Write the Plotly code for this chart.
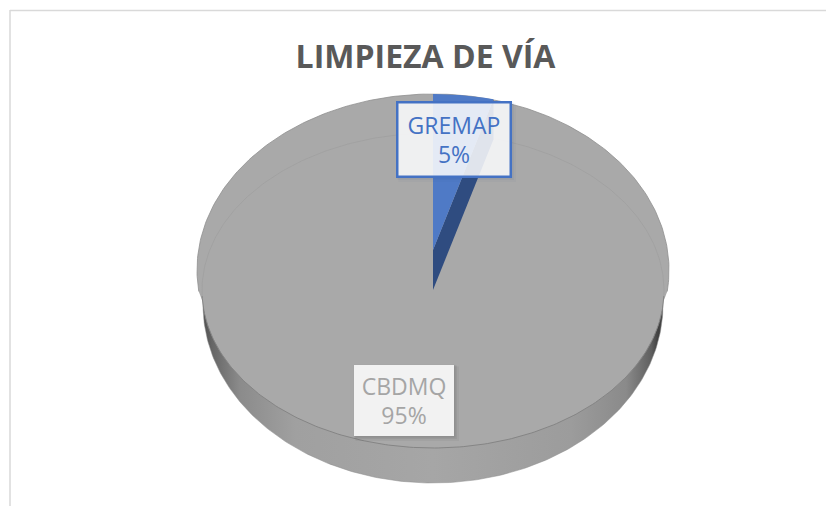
import numpy as np
import plotly.graph_objects as go

# --- data ---
categories = ["GREMAP", "CBDMQ"]
values = [5, 95]
title_text = "LIMPIEZA DE VÍA"

# --- pie geometry / style (pixel-like axis units) ---
W, H = 826, 506
CX = 433
TOP_CY, TOP_RY, TOP_RX = 270, 176, 236   # outer top silhouette
FACE_CY, FACE_RY, FACE_RX = 290.5, 157.5, 231  # rim line
BODY_CY, BODY_RY, BODY_RX = 305, 178, 230  # side wall silhouette
WEDGE_CY, WEDGE_DROP = 250, 40
WEDGE_RX, WEDGE_RY = 236, 156
PERSPECTIVE = 0.83

total = sum(values)
shares = [v / total for v in values]
pct = [round(s * 100) for s in shares]


def arc(cy, rx, ry, a0, a1, n=200):
    t = np.radians(np.linspace(a0, a1, n))
    return CX + rx * np.sin(t), cy - ry * np.cos(t)


fig = go.Figure()


def add(x, y, **kw):
    fig.add_trace(go.Scatter(x=list(x), y=list(y), mode=kw.pop("mode", "lines"),
                             hoverinfo="skip", showlegend=False, **kw))


# side wall with horizontal shading
bx, by = arc(BODY_CY, BODY_RX, BODY_RY, 0, 360, 400)
add(bx, by, fill="toself", line=dict(width=0.5, color="#8c8c8c"),
    fillgradient=dict(type="horizontal", colorscale=[
        [0.0, "#4f4f4f"], [0.02, "#666666"], [0.08, "#8b8b8b"], [0.2, "#a0a0a0"],
        [0.5, "#a6a6a6"], [0.8, "#9c9c9c"], [0.92, "#8a8a8a"], [0.975, "#5f5f5f"],
        [0.99, "#3f3f3f"], [1.0, "#4a4a4a"]]))

# grey face: outer silhouette above, rim line below
ux, uy = arc(TOP_CY, TOP_RX, TOP_RY, -97, 97)
lx, ly = arc(FACE_CY, FACE_RX, FACE_RY, 94, 266)
add(np.r_[ux, lx, ux[0]], np.r_[uy, ly, uy[0]], fill="toself", fillcolor="#a9a9a9",
    line=dict(width=0, color="#a9a9a9"))
# soft edge along the upper silhouette
add(ux, uy, line=dict(width=0.8, color="#8f8f8f"))

# faint upper part of rim, darker lower part
rx_, ry_ = arc(FACE_CY, FACE_RX, FACE_RY, -92, 92)
add(rx_, ry_, line=dict(width=0.8, color="#a0a0a0"))
rx2, ry2 = arc(FACE_CY, FACE_RX, FACE_RY, 92, 268)
add(rx2, ry2, line=dict(width=1, color="#858585"))

# blue slice from its share
theta = np.radians(np.linspace(0, shares[0] * 360, 40))
wx = CX + WEDGE_RX * PERSPECTIVE * np.sin(theta)
wy = WEDGE_CY - WEDGE_RY * np.sqrt(1 - ((wx - CX) / WEDGE_RX) ** 2)
# dark cut wall
add([CX, CX, wx[-1], wx[-1], CX], [WEDGE_CY, WEDGE_CY + WEDGE_DROP,
    wy[-1] + WEDGE_DROP, wy[-1], WEDGE_CY], fill="toself", fillcolor="#2f4c80",
    line=dict(width=0, color="#2f4c80"))
# light top
add(np.r_[CX, wx, CX], np.r_[WEDGE_CY, wy, WEDGE_CY], fill="toself",
    fillcolor="#4f7ac6", line=dict(width=0, color="#4f7ac6"))

# label shadows and frame
shapes = []
boxes = [((397, 102, 511, 177), "#2f4c80"), ((354, 365, 454, 436), "black")]
for (x0, y0, x1, y1), col in boxes:
    for g, op in [(5, 0.04), (3, 0.05), (1.5, 0.06)]:
        shapes.append(dict(type="rect", x0=x0 - 1 + g / 2, x1=x1 + g, y0=y0 - 1 + g / 2, y1=y1 + g,
                           fillcolor=col, opacity=op, line_width=0, layer="above"))
shapes.append(dict(type="line", x0=10, x1=W, y0=10.5, y1=10.5, line=dict(color="#d9d9d9", width=1.5), layer="below"))
shapes.append(dict(type="line", x0=10, x1=10, y0=10, y1=H, line=dict(color="#d9d9d9", width=1.5), layer="below"))

font_family = "Open Sans"
annotations = [
    dict(x=454, y=139.5, xref="x", yref="y", text=f"{categories[0]}<br>{pct[0]}%", showarrow=False,
         width=111, height=72, bgcolor="rgba(255,255,255,0.85)", bordercolor="#4472c4", borderwidth=2.5,
         borderpad=0, align="center", valign="middle", font=dict(family=font_family, size=23, color="#4472c4")),
    dict(x=404, y=400.5, xref="x", yref="y", text=f"{categories[1]}<br>{pct[1]}%", showarrow=False,
         width=100, height=71, bgcolor="#f2f2f2", borderwidth=0, borderpad=0, align="center", valign="middle",
         font=dict(family=font_family, size=23, color="#a5a5a5")),
]

fig.update_layout(
    width=W, height=H, autosize=False, margin=dict(l=0, r=0, t=0, b=0, pad=0),
    paper_bgcolor="white", plot_bgcolor="white", showlegend=False,
    title=dict(text=f"<b>{title_text}</b>", x=425.5 / W, y=1 - 57 / H, xanchor="center", yanchor="middle",
               font=dict(family=font_family, size=32, color="#595959")),
    xaxis=dict(range=[0, W], visible=False, fixedrange=True),
    yaxis=dict(range=[H, 0], visible=False, fixedrange=True),
    shapes=shapes, annotations=annotations,
)

fig.write_html("out.html", config={"displayModeBar": False},
               post_script="document.body.style.margin='0';document.body.style.overflow='hidden';")
